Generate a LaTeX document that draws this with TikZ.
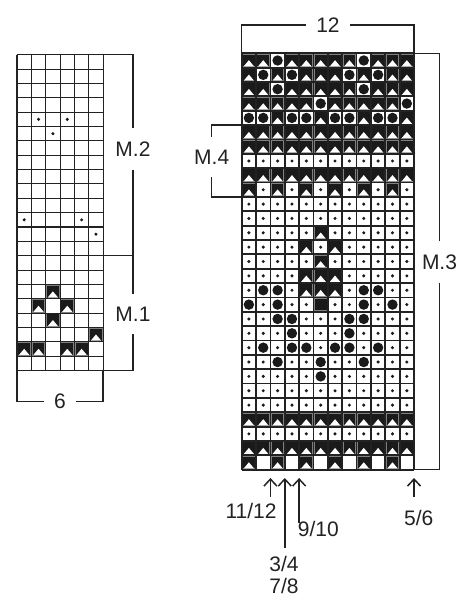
\documentclass[tikz,border=0pt]{standalone}
\usepackage{fontspec}
\setmainfont{Liberation Sans}
\usetikzlibrary{arrows.meta}

\begin{document}
\begin{tikzpicture}[x=1pt,y=-1pt]
  \definecolor{kdark}{RGB}{34,34,34}
  \definecolor{kblack}{RGB}{26,26,26}
  \definecolor{kgray}{RGB}{128,128,128}
  \def\csz{14.36}
  \def\lx{17}    \def\ly{54.7}
  \def\rx{241.7} \def\ry{53.3}
  \tikzset{
    lgrid/.style={kdark,line width=1.1pt},
    rgrid/.style={kdark,line width=1.8pt},
    bracket/.style={kdark,line width=1.5pt},
    mlabel/.style={font=\fontsize{21}{25}\selectfont,text=kdark,inner xsep=10pt,inner ysep=13pt},
    nlabel/.style={font=\fontsize{21}{25}\selectfont,text=kdark,inner sep=1pt},
    karrow/.style={-{Straight Barb[length=7pt,width=13pt]},kdark,line width=1.5pt},
    kcell/.pic={
      \fill[kgray] (0,0) rectangle (\csz,\csz);
      \fill[kblack] (1.3,1.3) rectangle ({\csz-1.3},{\csz-1.3});
      \fill[white] ({0.14*\csz},{\csz-1.3}) -- ({0.5*\csz},{0.48*\csz}) -- ({0.86*\csz},{\csz-1.3}) -- cycle;
    },
    fcell/.pic={
      \fill[kgray] (0,0) rectangle (\csz,\csz);
      \fill[kblack] (1.3,1.3) rectangle ({\csz-1.3},{\csz-1.3});
    },
    ocell/.pic={
      \fill[white] (0,0) rectangle (\csz,\csz);
      \fill[kblack] ({0.5*\csz},{0.5*\csz}) circle (5.2pt);
    },
    dcell/.pic={\fill[kblack] ({0.5*\csz},{0.5*\csz}) circle (1.7pt);},
    ecell/.pic={\fill[white] (0,0) rectangle (\csz,\csz);},
  }
  \useasboundingbox (0,0) rectangle (465,600);

  % left chart
  \foreach \c/\r in {2/5,4/5,3/6,1/12,5/12,6/13}
    \pic at ({\lx+(\c-1)*\csz},{\ly+(\r-1)*\csz}) {dcell};
  \foreach \c/\r in {3/17,2/18,4/18,3/19,6/20,1/21,2/21,4/21,5/21}
    \pic at ({\lx+(\c-1)*\csz},{\ly+(\r-1)*\csz}) {kcell};
  \foreach \c in {0,...,6}
    \draw[lgrid] ({\lx+\c*\csz},\ly) -- ++(0,{22*\csz});
  \foreach \r in {0,...,22}
    \draw[lgrid] (\lx,{\ly+\r*\csz}) -- ++({6*\csz},0);

  % right chart
  \foreach \r in {1,...,29}
    \foreach \c in {1,...,12}
      \pic at ({\rx+(\c-1)*\csz},{\ry+(\r-1)*\csz}) {dcell};
  \foreach \r in {1,...,7,9,26,28}
    \foreach \c in {1,...,12}
      \pic at ({\rx+(\c-1)*\csz},{\ry+(\r-1)*\csz}) {kcell};
  \foreach \r/\cols in {10/{1,3,5,7,9,11},29/{1,3,5,7,9,11},13/{6},14/{5,7},15/{6},16/{5,6,7},17/{5,6,7}}
    \foreach \c in \cols
      \pic at ({\rx+(\c-1)*\csz},{\ry+(\r-1)*\csz}) {kcell};
  \foreach \r/\cols in {1/{3,9},2/{2,4,8,10},3/{3,9},4/{6,12},5/{1,2,4,5,7,8,10,11},
      17/{2,3,9,10},18/{1,3,9,11},19/{3,4,8,9},20/{4,8},21/{2,4,5,7,8,10},22/{3,6,9},23/{6}}
    \foreach \c in \cols
      \pic at ({\rx+(\c-1)*\csz},{\ry+(\r-1)*\csz}) {ocell};
  \foreach \c in {2,4,...,12}
    \pic at ({\rx+(\c-1)*\csz},{\ry+28*\csz}) {ecell};
  \pic at ({\rx+5*\csz},{\ry+17*\csz}) {fcell};
  \foreach \c in {0,...,12}
    \draw[rgrid] ({\rx+\c*\csz},\ry) -- ++(0,{29*\csz});
  \foreach \r in {0,...,29}
    \draw[rgrid] (\rx,{\ry+\r*\csz}) -- ++({12*\csz},0);

  % brackets
  \node[mlabel] (m2) at (133,149) {M.2};
  \node[mlabel] (m1) at (133,314) {M.1};
  \node[mlabel] (m4) at (211.7,157) {M.4};
  \node[mlabel] (m3) at (439.5,262) {M.3};
  \node[mlabel] (w6) at (60,401.7) {6};
  \node[mlabel] (w12) at (328,25) {12};
  \draw[bracket] (m2.north) -- (133,\ly) -- ({\lx+6*\csz},\ly);
  \draw[bracket] (m2.south) -- (133,{\ly+14*\csz}) -- ({\lx+6*\csz},{\ly+14*\csz});
  \draw[bracket] (m1.north) -- (133,{\ly+14*\csz});
  \draw[bracket] (m1.south) -- (133,{\ly+22*\csz}) -- ({\lx+6*\csz},{\ly+22*\csz});
  \draw[bracket] (w6.west) -- (\lx,401.7) -- (\lx,{\ly+22*\csz});
  \draw[bracket] (w6.east) -- ({\lx+6*\csz},401.7) -- ({\lx+6*\csz},{\ly+22*\csz});
  \draw[bracket] (w12.west) -- (\rx,25) -- (\rx,\ry);
  \draw[bracket] (w12.east) -- ({\rx+12*\csz},25) -- ({\rx+12*\csz},\ry);
  \draw[bracket] (m4.north) -- (211.7,{\ry+5*\csz}) -- (\rx,{\ry+5*\csz});
  \draw[bracket] (m4.south) -- (211.7,{\ry+10*\csz}) -- (\rx,{\ry+10*\csz});
  \draw[bracket] (m3.north) -- (439.5,\ry) -- ({\rx+12*\csz},\ry);
  \draw[bracket] (m3.south) -- (439.5,{\ry+29*\csz}) -- ({\rx+12*\csz},{\ry+29*\csz});

  % arrows
  \coordinate (h1) at ({\rx+2*\csz},478);  \coordinate (t1) at ({\rx+2*\csz},497);
  \coordinate (h2) at ({\rx+3*\csz},478);  \coordinate (t2) at ({\rx+3*\csz},548);
  \coordinate (h3) at ({\rx+4*\csz},478);  \coordinate (t3) at ({\rx+4*\csz},523);
  \coordinate (h4) at ({\rx+12*\csz},478); \coordinate (t4) at ({\rx+12*\csz},497);
  \draw[karrow] (t1) -- (h1);
  \draw[karrow] (t2) -- (h2);
  \draw[karrow] (t3) -- (h3);
  \draw[karrow] (t4) -- (h4);
  \node[nlabel] (r1112) at (251,510.5) {11/12};
  \node[nlabel] (r910) at (318.3,529) {9/10};
  \node[nlabel] (r34) at (284,564) {3/4};
  \node[nlabel] (r78) at (284,586) {7/8};
  \node[nlabel] (r56) at (418.7,517.5) {5/6};
\end{tikzpicture}
\end{document}
